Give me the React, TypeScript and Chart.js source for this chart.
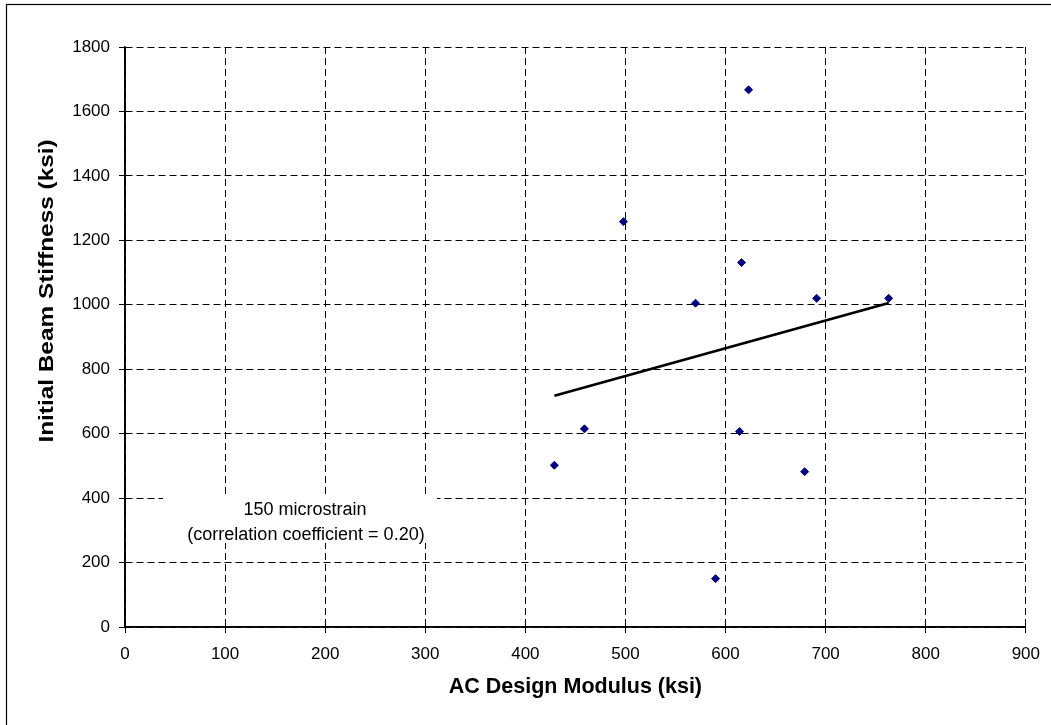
import React, { useEffect, useRef } from "react";
import { Chart, registerables } from "chart.js";

Chart.register(...registerables);

// Data
const acDesignModulus: number[] = [429, 459, 498, 570, 590, 614, 616, 623, 679, 691, 763];
const beamStiffness: number[] = [502, 615, 1258, 1005, 150, 607, 1131, 1667, 482, 1020, 1020];

const xTickRange = { min: 0, max: 900, step: 100 };
const yTickRange = { min: 0, max: 1800, step: 200 };

const xTitle = "AC Design Modulus (ksi)";
const yTitle = "Initial Beam Stiffness (ksi)";
const noteLines = ["150 microstrain", "(correlation coefficient = 0.20)"];

const FONT = "'Liberation Sans', Arial, Helvetica, sans-serif";

// Least-squares trend line (as the spreadsheet trendline does)
function trendLine(xs: number[], ys: number[]) {
  const n = xs.length;
  const mx = xs.reduce((a, b) => a + b, 0) / n;
  const my = ys.reduce((a, b) => a + b, 0) / n;
  let sxy = 0;
  let sxx = 0;
  for (let i = 0; i < n; i++) {
    sxy += (xs[i] - mx) * (ys[i] - my);
    sxx += (xs[i] - mx) * (xs[i] - mx);
  }
  const slope = sxy / sxx;
  const x0 = Math.min(...xs);
  const x1 = Math.max(...xs);
  return [
    { x: x0, y: my + slope * (x0 - mx) },
    { x: x1, y: my + slope * (x1 - mx) },
  ];
}

const framePlugin = {
  id: "frameAndNote",
  afterDatasetsDraw(chart: any) {
    const ctx = chart.ctx;
    const xs = chart.scales.x;
    const ys = chart.scales.y;
    const x0 = xs.getPixelForValue(xTickRange.min);
    const y0 = ys.getPixelForValue(yTickRange.min);
    const yTop = ys.getPixelForValue(yTickRange.max);
    const xRight = xs.getPixelForValue(xTickRange.max);
    ctx.save();
    ctx.strokeStyle = "#000";
    ctx.lineWidth = 1.6;
    ctx.setLineDash([]);
    ctx.beginPath();
    ctx.moveTo(x0, yTop);
    ctx.lineTo(x0, y0);
    ctx.lineTo(xRight, y0);
    ctx.stroke();
    ctx.restore();
  },
  afterDraw(chart: any) {
    const ctx = chart.ctx;
    ctx.save();
    // outer chart border (extends past the viewport on right/bottom)
    ctx.strokeStyle = "#000";
    ctx.lineWidth = 1.2;
    ctx.strokeRect(6.5, 4.5, 1200, 1000);

    // annotation text box
    ctx.fillStyle = "#fff";
    ctx.fillRect(163, 495, 274, 48);
    ctx.fillStyle = "#000";
    ctx.font = `18px ${FONT}`;
    ctx.textAlign = "center";
    ctx.textBaseline = "middle";
    ctx.fillText(noteLines[0], 305, 510);
    ctx.fillText(noteLines[1], 306, 535);

    // y axis title (stretched along its length as in the reference)
    ctx.translate(47, 291);
    ctx.rotate(-Math.PI / 2);
    ctx.scale(1.16, 1);
    ctx.font = `bold 21px ${FONT}`;
    ctx.fillText(yTitle, 0, 0);
    ctx.restore();
  },
};

export default function App() {
  const canvasRef = useRef<HTMLCanvasElement | null>(null);

  useEffect(() => {
    if (!canvasRef.current) return;
    const points = acDesignModulus.map((x, i) => ({ x, y: beamStiffness[i] }));
    const trend = trendLine(acDesignModulus, beamStiffness);

    const chart = new Chart(canvasRef.current, {
      type: "scatter",
      data: {
        datasets: [
          {
            label: "Trend",
            data: trend,
            showLine: true,
            borderColor: "#000",
            borderWidth: 2.8,
            pointRadius: 0,
            fill: false,
          } as any,
          {
            label: "Data",
            data: points,
            pointStyle: "rectRot",
            pointRadius: 4,
            pointBackgroundColor: "#000080",
            pointBorderColor: "#000080",
            pointBorderWidth: 1,
            showLine: false,
          } as any,
        ],
      },
      options: {
        animation: false,
        responsive: false,
        maintainAspectRatio: false,
        layout: { padding: { left: 0, top: 47, right: 25, bottom: 0 } },
        plugins: {
          legend: { display: false },
          tooltip: { enabled: false },
        },
        scales: {
          x: {
            type: "linear",
            min: xTickRange.min,
            max: xTickRange.max,
            ticks: {
              stepSize: xTickRange.step,
              color: "#000",
              font: { family: FONT, size: 17 },
              padding: 11,
              maxRotation: 0,
              callback: (v: any) => String(v),
            },
            grid: {
              color: "#000",
              lineWidth: 1,
              tickLength: 6,
              tickColor: "#000",
              tickBorderDash: [],
            } as any,
            border: { display: true, color: "#000", width: 1.5, dash: [7, 4] },
            title: {
              display: true,
              text: xTitle,
              color: "#000",
              font: { family: FONT, size: 21.5, weight: "bold" },
              padding: { top: 0, bottom: 25 },
            },
            afterFit: (s: any) => {
              s.height = 98;
            },
          } as any,
          y: {
            type: "linear",
            min: yTickRange.min,
            max: yTickRange.max,
            ticks: {
              stepSize: yTickRange.step,
              color: "#000",
              font: { family: FONT, size: 17 },
              padding: 9,
              callback: (v: any) => String(v),
            },
            grid: {
              color: "#000",
              lineWidth: 1,
              tickLength: 6,
              tickColor: "#000",
              tickBorderDash: [],
            } as any,
            border: { display: true, color: "#000", width: 1.5, dash: [7, 4] },
            title: { display: false },
            afterFit: (s: any) => {
              s.width = 125;
            },
          } as any,
        },
      },
      plugins: [framePlugin],
    });
    return () => chart.destroy();
  }, []);

  return (
    <div
      style={{
        position: "fixed",
        left: 0,
        top: 0,
        width: 1051,
        height: 725,
        background: "#fff",
        overflow: "hidden",
      }}
    >
      <canvas ref={canvasRef} width={1051} height={725} style={{ width: 1051, height: 725, display: "block" }} />
    </div>
  );
}
